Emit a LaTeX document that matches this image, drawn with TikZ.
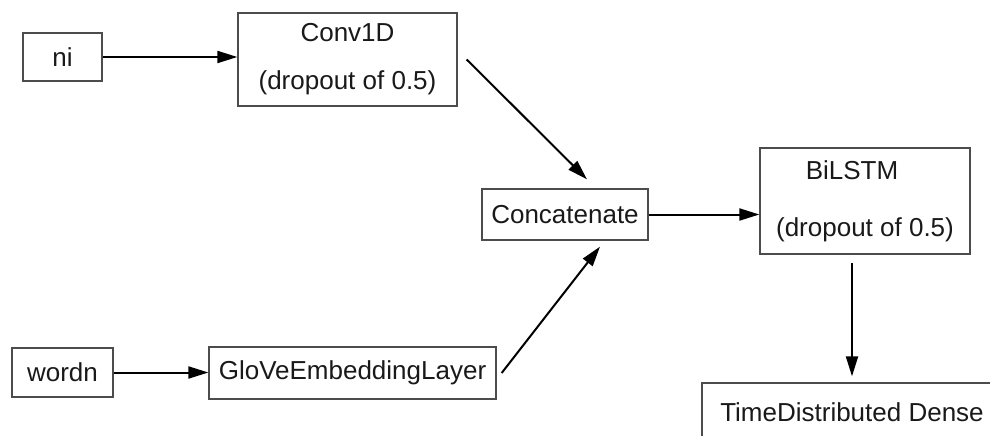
\documentclass[tikz,border=0pt]{standalone}
\usepackage{fontspec}
\setmainfont{Liberation Sans}
\usetikzlibrary{arrows.meta}

\begin{document}
\begin{tikzpicture}[x=1pt,y=-1pt,
        box/.style={draw=black!70,line width=1.3pt,inner sep=0pt,align=center,
            text=black!90,font=\fontsize{26}{31}\selectfont},
        arr/.style={-{Triangle[length=20pt,width=12pt]},line width=2pt}]
        \useasboundingbox (0,0) rectangle (990,436);
        \clip (0,0) rectangle (990,436);
        % input branch: characters
        \node[box,minimum width=79pt,minimum height=48pt] (ni) at (62.5,57) {ni};
        \node[box,minimum width=219pt,minimum height=93pt] (conv) at (347.5,59.5)
            {Conv1D\\[17pt](dropout of 0.5)};
        % input branch: words
        \node[box,minimum width=101pt,minimum height=49pt] (word) at (62.5,372.5) {wordn};
        \node[box,minimum width=287pt,minimum height=52pt] (glove) at (352.5,373) {GloVeEmbeddingLayer};
        % merge and output
        \node[box,minimum width=166pt,minimum height=51pt] (concat) at (565,214.5) {Concatenate};
        \node[box,minimum width=210pt,minimum height=106pt] (bilstm) at (865,201)
            {BiLSTM\hspace*{26pt}\\[26pt](dropout of 0.5)};
        \node[box,minimum width=300pt,minimum height=58pt] (tdd) at (852,412) {TimeDistributed Dense};
        \draw[arr] (ni) -- (ni -| conv.west);
        \draw[arr] (word) -- (word -| glove.west);
        \draw[arr] ([xshift=9pt]conv.east) -- ([xshift=22pt,yshift=9pt]concat.north);
        \draw[arr] ([xshift=5pt]glove.east) -- ([xshift=35pt,yshift=-6pt]concat.south);
        \draw[arr] (concat) -- (concat -| bilstm.west);
        \draw[arr] (bilstm.south -| tdd.north) ++(0,8) -- ([yshift=6pt]tdd.north);
    \end{tikzpicture}
\end{document}
